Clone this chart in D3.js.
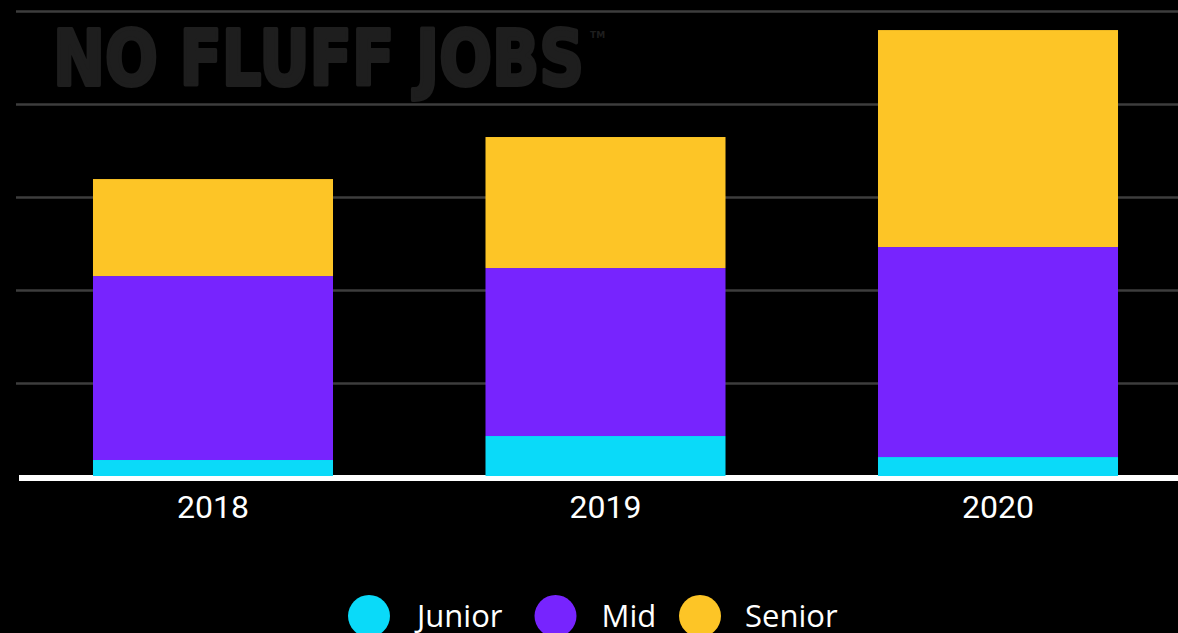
<!DOCTYPE html>
<html>
<head>
<meta charset="utf-8">
<script src="https://cdn.jsdelivr.net/npm/d3@7"></script>
<style>
  html, body { margin: 0; padding: 0; background: #000; }
  svg { display: block; }
</style>
</head>
<body>
<svg id="chart" width="1178" height="633"></svg>
<script>
// Job offers by seniority level, per year
const years = ["2018", "2019", "2020"];
const levels = ["Junior", "Mid", "Senior"];
const junior = [172, 430, 204];
const mid = [1978, 1806, 2258];
const senior = [1043, 1409, 2333];
const gridValues = [1000, 2000, 3000, 4000, 5000];
const levelColors = ["#0adaf9", "#7724fe", "#fdc526"];

const svg = d3.select("#chart");
const W = 1178;

const x = d3.scaleBand()
  .domain(years)
  .range([17, 1194])
  .paddingInner(0.3885)
  .paddingOuter(0.1936);

const y = d3.scaleLinear()
  .domain([0, 5000])
  .range([476, 11]);

const color = d3.scaleOrdinal().domain(levels).range(levelColors);

// watermark logo text
const mark = svg.append("text")
  .attr("x", 53)
  .attr("y", 85)
  .attr("font-family", "'DejaVu Sans', sans-serif")
  .attr("font-weight", 700)
  .attr("fill", "#1e1e1e");
mark.append("tspan")
  .attr("font-size", 76)
  .attr("textLength", 531)
  .attr("lengthAdjust", "spacingAndGlyphs")
  .attr("stroke", "#1e1e1e")
  .attr("stroke-width", 4)
  .attr("stroke-linejoin", "round")
  .text("NO FLUFF JOBS");
mark.append("tspan")
  .attr("font-size", 9)
  .attr("dx", 6)
  .attr("dy", -47)
  .text("TM");

// horizontal gridlines
const grid = svg.append("g")
  .attr("transform", "translate(16,0)")
  .call(d3.axisLeft(y).tickValues(gridValues).tickSize(-(W - 16)).tickFormat(""));
grid.select(".domain").remove();
grid.selectAll(".tick line")
  .attr("stroke", "#3d3d3d")
  .attr("stroke-width", 2.6);

// baseline
svg.append("line")
  .attr("x1", 19).attr("x2", W)
  .attr("y1", y(0) + 2).attr("y2", y(0) + 2)
  .attr("stroke", "#fff")
  .attr("stroke-width", 6);

// stacked bars
const rows = years.map((yr, i) => ({ year: yr, Junior: junior[i], Mid: mid[i], Senior: senior[i] }));
const stacked = d3.stack().keys(levels)(rows);

svg.append("g")
  .selectAll("g")
  .data(stacked)
  .join("g")
  .attr("fill", d => color(d.key))
  .selectAll("rect")
  .data(d => d)
  .join("rect")
  .attr("x", d => x(d.data.year))
  .attr("width", x.bandwidth())
  .attr("y", d => y(d[1]))
  .attr("height", d => y(d[0]) - y(d[1]));

// year labels
const xAxis = svg.append("g")
  .attr("transform", `translate(0,${y(0)})`)
  .call(d3.axisBottom(x).tickSize(0).tickPadding(0));
xAxis.select(".domain").remove();
xAxis.selectAll(".tick text")
  .attr("y", 42)
  .attr("dy", 0)
  .attr("fill", "#fff")
  .attr("font-family", "Roboto, sans-serif")
  .attr("font-weight", 400)
  .attr("font-size", 32);

// legend
const legendX = [369, 555.5, 700];
const legendTextDx = [48, 46, 45];
const legend = svg.append("g")
  .selectAll("g")
  .data(levels)
  .join("g")
  .attr("transform", (d, i) => `translate(${legendX[i]},616)`);
legend.append("circle")
  .attr("r", 21)
  .attr("fill", d => color(d));
legend.append("text")
  .attr("x", (d, i) => legendTextDx[i])
  .attr("y", 11)
  .attr("fill", "#fff")
  .attr("font-family", "'Open Sans', sans-serif")
  .attr("font-size", 31)
  .text(d => d);
</script>
</body>
</html>
